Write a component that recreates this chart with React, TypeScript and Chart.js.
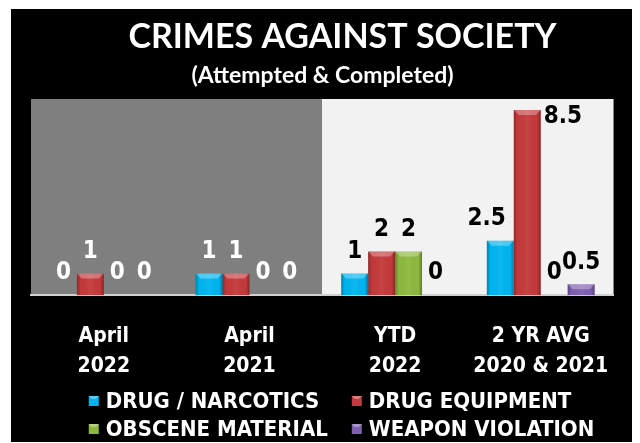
import React, { useEffect, useRef } from 'react';
import { Chart, registerables } from 'chart.js';

Chart.register(...registerables);

const categories = [['April', '2022'], ['April', '2021'], ['YTD', '2022'], ['2 YR AVG', '2020 & 2021']];
const seriesNames = ['DRUG / NARCOTICS', 'DRUG EQUIPMENT', 'OBSCENE MATERIAL', 'WEAPON VIOLATION'];
const drugNarcotics = [0, 1, 1, 2.5];
const drugEquipment = [1, 1, 2, 8.5];
const obsceneMaterial = [0, 0, 2, 0];
const weaponViolation = [0, 0, 0, 0.5];
const yMin = 0;
const yMax = 9;

const titleText = 'CRIMES AGAINST SOCIETY';
const subtitleText = '(Attempted & Completed)';

const seriesColors = ['#00b4ef', '#c4393b', '#8db83e', '#7f5fb0'];
const panelColors = ['#7f7f7f', '#7f7f7f', '#f2f2f2', '#f2f2f2'];
const labelColors = ['#ffffff', '#ffffff', '#000000', '#000000'];

const COND = "'DejaVu Sans Condensed', 'Liberation Sans Narrow', Roboto, sans-serif";
const TITLE_FONT = "Lato, 'Open Sans', sans-serif";

const W = 627;
const H = 434;

const backgroundPlugin = {
  id: 'bgPanels',
  beforeDraw(chart: any) {
    const { ctx, chartArea, scales } = chart;
    const x = scales.x;
    ctx.save();
    ctx.fillStyle = '#000';
    ctx.fillRect(0, 0, chart.width, chart.height);
    const step = x.getPixelForValue(1) - x.getPixelForValue(0);
    // merge consecutive categories with the same panel colour
    let i = 0;
    while (i < categories.length) {
      let j = i;
      while (j + 1 < categories.length && panelColors[j + 1] === panelColors[i]) j++;
      const l = Math.max(chartArea.left, Math.round(x.getPixelForValue(i) - step / 2));
      const r = Math.min(chartArea.right, Math.round(x.getPixelForValue(j) + step / 2));
      ctx.fillStyle = panelColors[i];
      ctx.fillRect(l, chartArea.top, r - l, chartArea.bottom - chartArea.top);
      i = j + 1;
    }
    ctx.fillStyle = '#ffffff';
    ctx.textAlign = 'center';
    ctx.textBaseline = 'middle';
    ctx.font = `bold 34px ${TITLE_FONT}`;
    ctx.fillText(titleText, chart.width / 2 + 18, 28);
    ctx.font = `bold 23px ${TITLE_FONT}`;
    ctx.fillText(subtitleText, chart.width / 2 - 2, 67);
    ctx.restore();
  },
};

const barDecorPlugin = {
  id: 'barDecor',
  afterDatasetsDraw(chart: any) {
    const { ctx, chartArea } = chart;
    ctx.save();
    chart.data.datasets.forEach((ds: any, di: number) => {
      const meta = chart.getDatasetMeta(di);
      meta.data.forEach((bar: any) => {
        const { x, y, base, width } = bar.getProps(['x', 'y', 'base', 'width'], true);
        const h = base - y;
        if (h < 0.5) return;
        const l = x - width / 2;
        const r = x + width / 2;
        const g = ctx.createLinearGradient(l, 0, r, 0);
        g.addColorStop(0, 'rgba(0,0,0,0.28)');
        g.addColorStop(0.14, 'rgba(0,0,0,0)');
        g.addColorStop(0.5, 'rgba(255,255,255,0.06)');
        g.addColorStop(0.86, 'rgba(0,0,0,0)');
        g.addColorStop(1, 'rgba(0,0,0,0.32)');
        ctx.fillStyle = g;
        ctx.fillRect(l, y, width, h);
        const bv = Math.min(5, h / 2);
        ctx.beginPath();
        ctx.moveTo(l, y);
        ctx.lineTo(r, y);
        ctx.lineTo(r - bv, y + bv);
        ctx.lineTo(l + bv, y + bv);
        ctx.closePath();
        ctx.fillStyle = 'rgba(255,255,255,0.3)';
        ctx.fill();
      });
    });
    ctx.font = `bold 24px ${COND}`;
    ctx.textAlign = 'center';
    ctx.textBaseline = 'middle';
    const nds = chart.data.datasets.length;
    chart.data.datasets.forEach((ds: any, di: number) => {
      const meta = chart.getDatasetMeta(di);
      meta.data.forEach((bar: any, i: number) => {
        const v = ds.data[i];
        const { x, y, width } = bar.getProps(['x', 'y', 'width'], true);
        const txt = String(v);
        const tw = ctx.measureText(txt).width;
        let cx = x;
        let cy = y - 22;
        if (cy - 10 < chartArea.top) {
          cx = x + width / 2 + tw / 2 + 3;
          cy = y + 7;
        } else if (di + 1 < nds) {
          const nb = chart.getDatasetMeta(di + 1).data[i];
          const np = nb.getProps(['x', 'y', 'width'], true);
          const nLeft = np.x - np.width / 2;
          if (np.y < cy + 10 && cx + tw / 2 > nLeft) {
            cx = nLeft - tw / 2 - 8;
          }
        }
        ctx.fillStyle = labelColors[i];
        ctx.fillText(txt, cx, cy);
      });
    });
    ctx.restore();
  },
};

const legendPlugin = {
  id: 'gridLegend',
  afterDraw(chart: any) {
    const { ctx } = chart;
    ctx.save();
    ctx.font = `bold 22px ${COND}`;
    ctx.textBaseline = 'middle';
    ctx.textAlign = 'left';
    const box = 10;
    const gap = 7;
    const colGap = 24;
    const names = chart.data.datasets.map((d: any) => d.label);
    const colW = [0, 1].map((c) =>
      Math.max(...names.filter((_: any, k: number) => k % 2 === c).map((n: string) => ctx.measureText(n).width))
    );
    const total = box + gap + colW[0] + colGap + box + gap + colW[1];
    const startX = chart.width / 2 - total / 2 + 17;
    const colX = [startX, startX + box + gap + colW[0] + colGap];
    const rowY = [chart.height - 42, chart.height - 14];
    names.forEach((n: string, k: number) => {
      const bx = colX[k % 2];
      const by = rowY[Math.floor(k / 2)];
      const col = chart.data.datasets[k].backgroundColor;
      ctx.fillStyle = col;
      ctx.fillRect(bx, by - box / 2, box, box);
      ctx.beginPath();
      ctx.moveTo(bx, by - box / 2);
      ctx.lineTo(bx + box, by - box / 2);
      ctx.lineTo(bx + box - 3, by - box / 2 + 3);
      ctx.lineTo(bx + 3, by - box / 2 + 3);
      ctx.closePath();
      ctx.fillStyle = 'rgba(255,255,255,0.35)';
      ctx.fill();
      ctx.fillStyle = '#ffffff';
      ctx.fillText(n, bx + box + gap, by + 1);
    });
    ctx.restore();
  },
};

export default function App() {
  const ref = useRef<HTMLCanvasElement | null>(null);
  useEffect(() => {
    if (!ref.current) return;
    const seriesData = [drugNarcotics, drugEquipment, obsceneMaterial, weaponViolation];
    const chart = new Chart(ref.current, {
      type: 'bar',
      data: {
        labels: categories,
        datasets: seriesNames.map((name, k) => ({
          label: name,
          data: seriesData[k],
          backgroundColor: seriesColors[k],
          borderWidth: 0,
          categoryPercentage: 0.74,
          barPercentage: 1.0,
        })),
      },
      options: {
        responsive: false,
        animation: false,
        events: [],
        layout: { padding: { left: 20, right: 23, top: 90, bottom: 35 } },
        plugins: {
          legend: { display: false },
          tooltip: { enabled: false },
          title: { display: false },
        },
        scales: {
          x: {
            grid: { display: false, drawTicks: false },
            border: { display: true, color: '#d0d0d0', width: 2 },
            ticks: {
              color: '#ffffff',
              padding: 27,
              maxRotation: 0,
              autoSkip: false,
              font: { family: COND, size: 21, weight: 'bold', lineHeight: 1.4 },
            },
          },
          y: {
            display: false,
            min: yMin,
            max: yMax,
          },
        },
      },
      plugins: [backgroundPlugin, barDecorPlugin, legendPlugin],
    });
    return () => chart.destroy();
  }, []);
  return (
    <div style={{ position: 'relative', left: 3, top: 1, width: W, height: H, background: '#000' }}>
      <canvas ref={ref} width={W} height={H} style={{ display: 'block', width: W, height: H }} />
    </div>
  );
}
